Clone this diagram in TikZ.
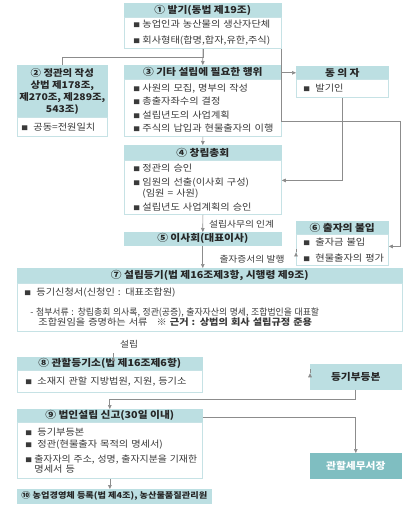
\documentclass[tikz,border=0pt]{standalone}
\usepackage{fontspec}
\usepackage{graphicx}
\setmainfont{Noto Sans CJK KR}[FakeStretch=1.12]
\usetikzlibrary{arrows.meta,calc}
\definecolor{hdcol}{HTML}{BCDFE2}
\definecolor{bdcol}{HTML}{C6E2E5}
\definecolor{darkcol}{HTML}{7FBEC1}
\definecolor{lncol}{HTML}{8C8C8C}
\definecolor{txcol}{HTML}{3A3A3A}
\definecolor{hdtx}{HTML}{262626}
\newcommand\bl[1][8pt]{\hspace*{#1}\makebox[9pt][l]{\fontsize{6}{6}\selectfont ■}}
\tikzset{
  hd/.style={anchor=north west, fill=hdcol, draw=hdcol, line width=0.6pt, inner sep=0pt, align=center,
    text=hdtx, font=\bfseries\fontsize{9.6}{12}\selectfont},
  bd/.style={anchor=north west, fill=white, draw=bdcol, line width=0.8pt, inner xsep=1pt, inner ysep=0pt,
    align=left, text=txcol, font=\fontsize{9.1}{11}\selectfont},
  arr/.style={draw=lncol, line width=0.7pt, -{Triangle[length=4pt,width=3.6pt]}},
  ln/.style={draw=lncol, line width=0.7pt},
  lbl/.style={text=txcol, inner sep=0pt, font=\fontsize{8.7}{10}\selectfont},
}
\begin{document}
\begin{tikzpicture}[x=1pt,y=-1pt]
\useasboundingbox (0,0) rectangle (420,517);
% box 1
\node[hd, minimum width=157pt, minimum height=14pt] (h1) at (124,3) {① 발기(동법 제19조)};
\node[bd, minimum width=157pt, minimum height=31pt, text width=155pt] (b1) at (124,17)
  {\bl 농업인과 농산물의 생산자단체\\[5pt]\bl 회사형태(합명,합자,유한,주식)};
% box 2
\node[hd, minimum width=90pt, minimum height=52pt, font=\bfseries\fontsize{9.3}{11.8}\selectfont] (h2) at (17,65)
  {② 정관의 작성\\상법 제178조,\\제270조, 제289조,\\543조)};
\node[bd, minimum width=90pt, minimum height=19pt, text width=88pt] (b2) at (17,117)
  {\bl[3pt] 공동=전원일치};
% box 3
\node[hd, minimum width=157pt, minimum height=14pt] (h3) at (124,65) {③ 기타 설립에 필요한 행위};
\node[bd, minimum width=157pt, minimum height=57pt, text width=155pt] (b3) at (124,79)
  {\bl 사원의 모집, 명부의 작성\\[2.5pt]\bl 총출자좌수의 결정\\[2.5pt]\bl 설립년도의 사업계획\\[2.5pt]\bl 주식의 납입과 현물출자의 이행};
% consent
\node[hd, minimum width=92pt, minimum height=13pt] (hc) at (296,66) {동 의 자};
\node[bd, minimum width=92pt, minimum height=18pt, text width=90pt] (bc) at (296,79)
  {\bl[6pt] 발기인};
% box 4
\node[hd, minimum width=157pt, minimum height=15pt] (h4) at (124,145) {④ 창립총회};
\node[bd, minimum width=157pt, minimum height=54pt, text width=155pt] (b4) at (124,160)
  {\bl 정관의 승인\\[3pt]\bl 임원의 선출(이사회 구성)\\[-0.5pt]\hspace*{17pt}(임원 = 사원)\\[3pt]\bl 설립년도 사업계획의 승인};
% box 5
\node[hd, minimum width=157pt, minimum height=13pt] (n5) at (124,232) {⑤ 이사회(대표이사)};
% box 6
\node[hd, minimum width=92pt, minimum height=13pt] (h6) at (296,221) {⑥ 출자의 불입};
\node[bd, minimum width=92pt, minimum height=31pt, text width=90pt] (b6) at (296,234)
  {\bl[6pt] 출자금 불입\\[5pt]\bl[6pt] 현물출자의 평가};
% box 7
\node[hd, minimum width=385pt, minimum height=15pt] (h7) at (17,268) {⑦ 설립등기(법 제16조제3항, 시행령 제9조)};
\node[bd, minimum width=385pt, minimum height=48pt, text width=383pt] (b7) at (17,283)
  {\bl[6pt] 등기신청서(신청인 : 대표조합원)\\[8.5pt]
   \hspace*{12pt}\scalebox{0.87}[1]{- 첨부서류 : 창립총회 의사록, 정관(공증), 출자자산의 명세, 조합법인을 대표할}\\[-0.5pt]
   \hspace*{20pt}조합원임을 증명하는 서류 \ \ \textbf{※ 근거 : 상법의 회사 설립규정 준용}};
% box 8
\node[hd, minimum width=185pt, minimum height=13pt] (h8) at (17,357) {⑧ 관할등기소(법 제16조제6항)};
\node[bd, minimum width=185pt, minimum height=22pt, text width=183pt] (b8) at (17,370)
  {\bl[7pt] 소재지 관할 지방법원, 지원, 등기소};
% register copy
\node[hd, minimum width=91pt, minimum height=25pt] (reg) at (310,364) {등기부등본};
% box 9
\node[hd, minimum width=185pt, minimum height=13pt] (h9) at (17,409) {⑨ 법인설립 신고(30일 이내)};
\node[bd, minimum width=185pt, minimum height=56pt, text width=183pt] (b9) at (17,422)
  {\bl[7pt] 등기부등본\\[1pt]\bl[7pt] 정관(현물출자 목적의 명세서)\\[4pt]\bl[7pt]\scalebox{0.97}[1]{출자자의 주소, 성명, 출자지분을 기재한}\\[-1pt]\hspace*{16pt}명세서 등};
% tax office
\node[hd, minimum width=91pt, minimum height=25pt, fill=darkcol, draw=darkcol, text=white] (tax) at (310,453) {관할세무서장};
% box 10
\node[hd, minimum width=194pt, minimum height=14pt, font=\bfseries\fontsize{8.2}{10}\selectfont] (n10) at (17,489)
  {⑩ 농업경영체 등록(법 제4조), 농산물품질관리원};
% labels
\node[lbl, anchor=west] (l45) at (209,224) {설립사무의 인계};
\node[lbl] (l65) at (252,259) {출자증서의 발행};
\node[lbl, anchor=west] (l78) at (120,344) {설립};
% connectors
\draw[arr] (b1.south) -- (h3.north);
\draw[ln] (b1.south) -- ++(0,9) -| (h2.north);
\coordinate (t1) at (400,121);
\draw[arr] (b1.south east) |- (t1) |- ($(b6.east)+(0,-3.5)$);
\draw[arr] (hc.west -| h3.east) -- (hc.west);
\draw[arr] (bc.south) |- ($(b4.east)+(0,-7)$);
\draw[arr] (b3.south) -- (h4.north);
\draw[arr] (b4.south) -- (n5.north);
\draw[arr] ($(b6.west)+(0,2.5)$) -- ($(b6.west)+(0,2.5)$ -| n5.south);
\draw[arr] (n5.south) -- (n5.south |- h7.north);
\draw[arr] ($(h8.north)+(3.5,0)$ |- b7.south) -- ($(h8.north)+(3.5,0)$);
\draw[arr] ($(reg.west)+(0,-3.5)$ -| b8.east) -- ($(reg.west)+(0,-3.5)$);
\draw[arr] (reg.south) -- ++(0,10) -| (h9.north);
\draw[arr] ($(h9.east)+(0,1.5)$) -| (tax.north);
\draw[arr] (b9.south) -- (b9.south |- n10.north);
\end{tikzpicture}
\end{document}
